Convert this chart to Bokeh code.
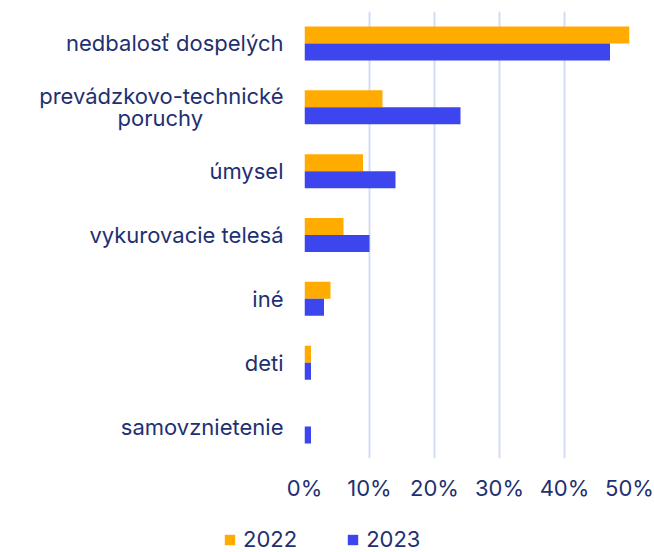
import json
from bokeh.plotting import figure
from bokeh.models import (ColumnDataSource, Range1d, Legend, LegendItem, FixedTicker,
                          CustomJSTickFormatter)
from bokeh.transform import dodge
from bokeh.embed import file_html
from bokeh.resources import INLINE

categories = ["nedbalosť dospelých", "prevádzkovo-technické\nporuchy", "úmysel",
              "vykurovacie telesá", "iné", "deti", "samovznietenie"]
values_2022 = [50, 12, 9, 6, 4, 1, 0]
values_2023 = [47, 24, 14, 10, 3, 1, 1]
series = ["2022", "2023"]
x_ticks = [0, 10, 20, 30, 40, 50]

FONT = "Inter"
TXT = "#1f3070"
ORANGE = "#ffab00"
BLUE = "#3d45ee"
FS = "22px"

src = ColumnDataSource(dict(cat=categories, v22=values_2022, v23=values_2023))
factors = list(reversed(categories))

p = figure(width=654, height=503, y_range=factors,
           x_range=Range1d(0, 50), output_backend="svg", toolbar_location=None,
           title=None,
           min_border_left=304, min_border_right=25, min_border_top=11,
           min_border_bottom=44)
p.outline_line_color = None

bh = 0.266
r22 = p.hbar(y=dodge("cat", bh / 2, range=p.y_range), right="v22", height=bh,
             source=src, color=ORANGE, line_color=None)
r23 = p.hbar(y=dodge("cat", -bh / 2, range=p.y_range), right="v23", height=bh,
             source=src, color=BLUE, line_color=None)

p.xaxis.ticker = FixedTicker(ticks=x_ticks)
p.xaxis.major_label_overrides = {t: f"{t}%" for t in x_ticks}
# centre the second line of the two-line label under the first one
label_map = {categories[1]: "prevádzkovo-technické\nporuchy" + "\u00a0" * 13 + "\u200b"}
p.yaxis.formatter = CustomJSTickFormatter(
    code="const m = %s; return (tick in m) ? m[tick] : tick;" % json.dumps(label_map))
for ax in (p.xaxis, p.yaxis):
    ax.axis_line_color = None
    ax.major_tick_line_color = None
    ax.minor_tick_line_color = None
    ax.major_tick_in = 0
    ax.major_tick_out = 0
    ax.major_label_text_font = FONT
    ax.major_label_text_font_size = FS
    ax.major_label_text_color = TXT
p.xaxis.major_label_standoff = 16
p.yaxis.major_label_standoff = 21
p.yaxis.major_label_text_line_height = 0.85

p.ygrid.grid_line_color = None
p.xgrid.grid_line_color = "#d3dcf5"
p.xgrid.grid_line_width = 2

# legend strip below the chart (same data, drawn outside the visible range)
p2 = figure(width=654, height=49, y_range=factors, x_range=Range1d(-2, -1),
            output_backend="svg", toolbar_location=None, title=None,
            x_axis_location=None, y_axis_location=None,
            min_border_left=0, min_border_right=0, min_border_top=0,
            min_border_bottom=0)
p2.outline_line_color = None
p2.xgrid.grid_line_color = None
p2.ygrid.grid_line_color = None
l22 = p2.hbar(y=dodge("cat", bh / 2, range=p2.y_range), right="v22", height=bh,
              source=src, color=ORANGE, line_color=None)
l23 = p2.hbar(y=dodge("cat", -bh / 2, range=p2.y_range), right="v23", height=bh,
              source=src, color=BLUE, line_color=None)

legend = Legend(items=[LegendItem(label=series[0], renderers=[l22]),
                       LegendItem(label=series[1], renderers=[l23])],
                orientation="horizontal", location=(223, 0),
                label_text_font=FONT, label_text_font_size=FS,
                label_text_color=TXT, glyph_width=13, glyph_height=13,
                spacing=49, label_standoff=7, padding=0, margin=0,
                border_line_color=None, background_fill_alpha=0)
p2.add_layout(legend, "center")

open("out.html", "w").write(file_html([p, p2], INLINE))
